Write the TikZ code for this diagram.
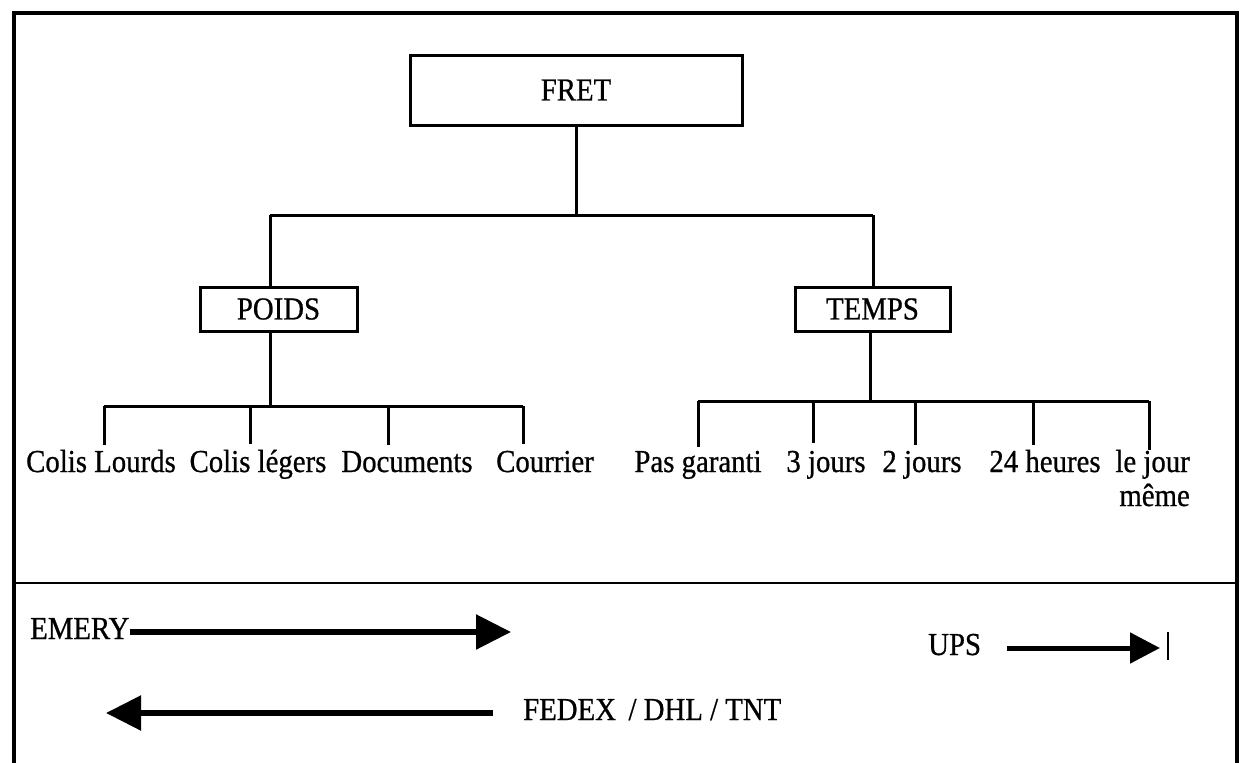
\documentclass[tikz,border=0pt]{standalone}
\usepackage{fontspec}
\setmainfont[FakeStretch=0.9,FakeBold=0.7]{Liberation Serif}
\usetikzlibrary{arrows.meta}
\tikzset{
  txt/.style={font=\fontsize{32}{38}\selectfont, inner sep=0pt},
  boxnode/.style={draw, line width=3pt, font=\fontsize{32}{38}\selectfont, inner sep=0pt},
  conn/.style={line width=3pt},
  bigarrow/.style={line width=5.5pt, -{Triangle[length=35pt,width=34pt]}},
  smallarrow/.style={line width=5pt, -{Triangle[length=30pt,width=30pt]}},
  frame/.style={line width=3.5pt}
}
\begin{document}
\begin{tikzpicture}[x=1pt,y=-1pt]
\clip (0,0) rectangle (1243,763);
\fill[white] (0,0) rectangle (1243,763);
% outer frame (bottom edge lies outside the picture)
\draw[frame] (14,780) -- (14,13) -- (1237,13) -- (1237,780);
\draw[line width=2.5pt] (14,583) -- (1237,583);

% top of tree
\node[boxnode, minimum width=332pt, minimum height=70pt] (fret) at (576,90) {FRET};
\node[boxnode, minimum width=157pt, minimum height=44pt] (poids) at (278.5,309) {POIDS};
\node[boxnode, minimum width=155pt, minimum height=44pt] (temps) at (872.5,309) {TEMPS};

\coordinate (j0) at (576,215);
\coordinate (jl) at (270,215);
\coordinate (jr) at (873,215);
\draw[conn] (fret.south) -- (j0);
\draw[conn] (jl) -- (jr);
\draw[conn] (jl) -- (jl |- poids.north);
\draw[conn] (jr) -- (jr |- temps.north);

% POIDS branch
\coordinate (pb) at (270,406);
\coordinate (p1) at (104,406);
\coordinate (p2) at (250,406);
\coordinate (p3) at (388,406);
\coordinate (p4) at (523,406);
\draw[conn] (poids.south -| pb) -- (pb);
\draw[conn] (p1) -- (p4);
\node[txt, anchor=base] (cl) at (101,472) {Colis Lourds};
\node[txt, anchor=base] (cg) at (258,472) {Colis légers};
\node[txt, anchor=base] (doc) at (407,472) {Documents};
\node[txt, anchor=base] (cou) at (545,472) {Courrier};
\draw[conn] (p1) -- (104,445);
\draw[conn] (p2) -- (250,444);
\draw[conn] (p3) -- (388,445);
\draw[conn] (p4) -- (523,444);

% TEMPS branch
\coordinate (tb) at (870,401);
\coordinate (t1) at (698,401);
\coordinate (t2) at (813,401);
\coordinate (t3) at (915,401);
\coordinate (t4) at (1033,401);
\coordinate (t5) at (1149,401);
\draw[conn] (temps.south -| tb) -- (tb);
\draw[conn] (t1) -- (t5);
\node[txt, anchor=base] (pg) at (698,472) {Pas garanti};
\node[txt, anchor=base] (j3) at (826,472) {3 jours};
\node[txt, anchor=base] (j2) at (922,472) {2 jours};
\node[txt, anchor=base] (h24) at (1045,472) {24 heures};
\node[txt, anchor=base east] (lj) at (1190,472) {le jour};
\node[txt, anchor=base east] (lm) at (1190,506) {même};
\draw[conn] (t1) -- (698,447);
\draw[conn] (t2) -- (813,443);
\draw[conn] (t3) -- (915,445);
\draw[conn] (t4) -- (1033,445);
\draw[conn] (t5) -- (1149,450);

% bottom part
\node[txt, anchor=base west] (emery) at (30,639) {EMERY};
\coordinate (emeryend) at (511,632);
\draw[bigarrow] (emery.east |- emeryend) -- (emeryend);

\node[txt, anchor=base west] (fedex) at (523,720) {FEDEX \,/ DHL / TNT};
\coordinate (fedexstart) at (493,713);
\coordinate (fedexend) at (106,713);
\draw[bigarrow] (fedexstart) -- (fedexend);

\node[txt, anchor=base west] (ups) at (928,655) {UPS};
\coordinate (upsstart) at (1007,648);
\coordinate (upsend) at (1160,648);
\draw[smallarrow] (upsstart) -- (upsend);
\draw[line width=2.5pt] (1168,632) -- (1168,660);
\end{tikzpicture}
\end{document}
